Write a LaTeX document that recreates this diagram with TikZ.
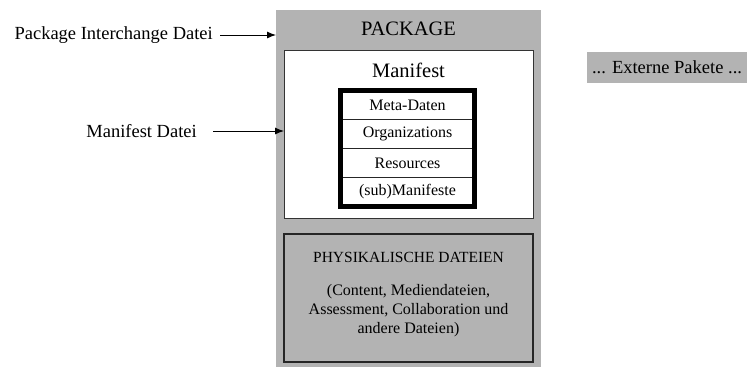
\documentclass[tikz,border=0pt]{standalone}
\usepackage{fontspec}
\setmainfont{Liberation Serif}
\usetikzlibrary{arrows.meta}
\definecolor{pkggray}{RGB}{179,179,179}
\begin{document}
\begin{tikzpicture}[x=1pt,y=-1pt,
  box/.style={rectangle,inner sep=0pt,outer sep=0pt,anchor=north west},
  rowbox/.style={rectangle,draw=black!85,line width=1pt,inner sep=0pt,outer sep=0pt,
    minimum width=134pt,minimum height=29pt,font=\fontsize{16}{19}\selectfont},
  lbl/.style={inner sep=0pt,font=\fontsize{18.5}{22}\selectfont},
  arr/.style={-{Latex[length=9pt,width=7pt]},line width=0.9pt}]
\useasboundingbox (0,0) rectangle (748,367);
% package
\node[box,fill=pkggray,minimum width=265pt,minimum height=360pt] (pkg) at (276,10) {};
\node[font=\fontsize{20.5}{24}\selectfont,inner sep=0pt] (pkgt) at (408.5,29) {PACKAGE};
% manifest
\node[box,fill=white,draw=black!80,line width=1pt,minimum width=249pt,minimum height=168pt] (man) at (284,50) {};
\node[font=\fontsize{20.5}{24}\selectfont,inner sep=0pt] (mant) at (408.5,70) {Manifest};
% rows
\node[rowbox] (r1) at (407.5,105) {Meta-Daten};
\node[rowbox] (r2) at (407.5,134) {Organizations};
\node[rowbox] (r3) at (407.5,163) {Resources};
\node[rowbox] (r4) at (407.5,192) {(sub)Manifeste};
\draw[line width=4.5pt] (r1.north west) rectangle (r4.south east);
% physical files
\node[box,fill=pkggray,draw=black!85,line width=1.2pt,minimum width=249pt,minimum height=128pt] (phys) at (284,234) {};
\node[font=\fontsize{15.5}{19}\selectfont,inner sep=0pt] (physt) at (408.5,257) {PHYSIKALISCHE DATEIEN};
\node[font=\fontsize{16}{19}\selectfont,inner sep=0pt,align=center] (physb) at (408.5,311)
  {(Content, Mediendateien,\\Assessment, Collaboration und\\andere Dateien)};
% external
\node[box,fill=pkggray,minimum width=160pt,minimum height=31pt] (ext) at (587,52) {};
\node[lbl] (extt) at (ext.center) {... Externe Pakete ...};
% labels
\node[lbl,anchor=east] (l1) at (213,35) {Package Interchange Datei};
\node[lbl,anchor=east] (l2) at (197,131) {Manifest Datei};
\draw[arr] ([xshift=7pt]l1.east) -- (l1.east -| pkg.west);
\draw[arr] ([xshift=16pt]l2.east) -- (l2.east -| man.west);
\end{tikzpicture}
\end{document}
